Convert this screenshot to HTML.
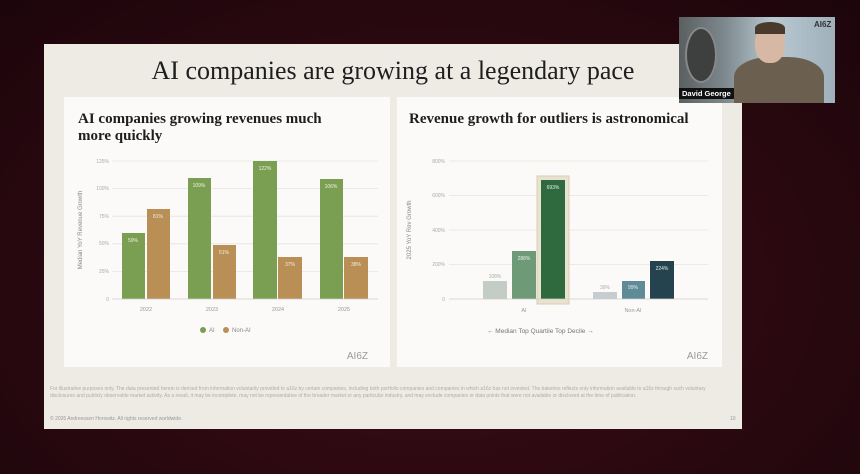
<!DOCTYPE html><html><head><style>
*{margin:0;padding:0;box-sizing:border-box}
body{width:860px;height:474px;overflow:hidden;background:radial-gradient(ellipse at 50% 60%,#3d0d18 0%,#2a0810 60%,#1c060b 100%);font-family:"Liberation Sans",sans-serif;position:relative}
.slide{position:absolute;left:44px;top:44px;width:698px;height:385px;background:#eeebe5}
.t{position:absolute;font-family:"Liberation Serif",serif;color:#1e1e1e}
.panel{position:absolute;top:53px;width:326px;height:270px;background:#fbfaf8}
.s{font-size:5px;color:#999;position:absolute}
</style></head><body>
<div class="slide">
<div class="t" style="left:0;width:698px;text-align:center;top:12px;font-size:26px">AI companies are growing at a legendary pace</div>
<div class="panel" style="left:20px"></div>
<div class="panel" style="left:353px;width:325px"></div>
<div class="s" style="left:6px;top:342px;width:680px;line-height:7px;color:#b0aca4">For illustrative purposes only. The data presented herein is derived from information voluntarily provided to a16z by certain companies, including both portfolio companies and companies in which a16z has not invested. The bakeries reflects only information available to a16z through such voluntary disclosures and publicly observable market activity. As a result, it may be incomplete, may not be representative of the broader market or any particular industry, and may exclude companies or data points that were not available or disclosed at the time of publication.</div>
<div class="s" style="left:6px;top:372px;color:#999">© 2026 Andreessen Horowitz. All rights reserved worldwide.</div>
<div class="s" style="left:686px;top:372px">10</div>
</div>
<svg width="860" height="474" style="position:absolute;left:0;top:0" font-family="Liberation Sans,sans-serif">
<text x="78" y="123" font-family="Liberation Serif,serif" font-size="15" font-weight="bold" fill="#1e1e1e">AI companies growing revenues much</text>
<text x="78" y="140" font-family="Liberation Serif,serif" font-size="15" font-weight="bold" fill="#1e1e1e">more quickly</text>
<text x="409" y="123" font-family="Liberation Serif,serif" font-size="15" font-weight="bold" fill="#1e1e1e">Revenue growth for outliers is astronomical</text>
<g stroke="#e6e4df" stroke-width="0.8">
<line x1="112" x2="378" y1="161" y2="161"/><line x1="112" x2="378" y1="188.6" y2="188.6"/><line x1="112" x2="378" y1="216.2" y2="216.2"/><line x1="112" x2="378" y1="243.8" y2="243.8"/><line x1="112" x2="378" y1="271.4" y2="271.4"/>
<line x1="449" x2="708" y1="161" y2="161"/><line x1="449" x2="708" y1="195.5" y2="195.5"/><line x1="449" x2="708" y1="230" y2="230"/><line x1="449" x2="708" y1="264.5" y2="264.5"/>
</g>
<g font-size="5" fill="#aaa" text-anchor="end">
<text x="109" y="163">125%</text><text x="109" y="190">100%</text><text x="109" y="218">75%</text><text x="109" y="245">50%</text><text x="109" y="273">25%</text><text x="109" y="301">0</text>
<text x="445" y="163">800%</text><text x="445" y="197">600%</text><text x="445" y="232">400%</text><text x="445" y="266">200%</text><text x="445" y="301">0</text>
</g>
<text transform="translate(82,230) rotate(-90)" font-size="6" fill="#888" text-anchor="middle">Median YoY Revenue Growth</text>
<text transform="translate(411,230) rotate(-90)" font-size="6" fill="#888" text-anchor="middle">2025 YoY Rev Growth</text>
<g fill="#7b9f52">
<rect x="122" y="233" width="23" height="66"/><rect x="188" y="178" width="23" height="121"/><rect x="253" y="161" width="24" height="138"/><rect x="320" y="179" width="23" height="120"/>
</g>
<g fill="#b98f55">
<rect x="147" y="209" width="23" height="90"/><rect x="213" y="245" width="23" height="54"/><rect x="278" y="257" width="24" height="42"/><rect x="344" y="257" width="24" height="42"/>
</g>
<line x1="112" x2="378" y1="299" y2="299" stroke="#ccc" stroke-width="0.8"/>
<g font-size="5" fill="#f3efe0" text-anchor="middle">
<text x="133" y="242">59%</text><text x="158" y="218">81%</text><text x="199" y="187">109%</text><text x="224" y="254">51%</text><text x="265" y="170">122%</text><text x="290" y="266">37%</text><text x="331" y="188">106%</text><text x="356" y="266">38%</text>
</g>
<g font-size="5.5" fill="#999" text-anchor="middle">
<text x="146" y="311">2022</text><text x="212" y="311">2023</text><text x="278" y="311">2024</text><text x="344" y="311">2025</text>
</g>
<circle cx="203" cy="330" r="3" fill="#7b9f52"/><text x="209" y="332" font-size="6" fill="#888">AI</text>
<circle cx="226" cy="330" r="3" fill="#b98f55"/><text x="232" y="332" font-size="6" fill="#888">Non-AI</text>
<text x="368" y="359" font-size="10" fill="#999" text-anchor="end">AI6Z</text>
<rect x="537" y="176" width="32" height="128" fill="#e9e2d0" stroke="#d8ceb6"/>
<rect x="483" y="281" width="24" height="18" fill="#c3cdc5"/>
<rect x="512" y="251" width="24" height="48" fill="#6e9a78"/>
<rect x="541" y="180" width="24" height="119" fill="#2f6a3f"/>
<rect x="593" y="292" width="24" height="7" fill="#c5cdd1"/>
<rect x="622" y="281" width="23" height="18" fill="#5f8b99"/>
<rect x="650" y="261" width="24" height="38" fill="#24434f"/>
<line x1="449" x2="708" y1="299" y2="299" stroke="#ccc" stroke-width="0.8"/>
<g font-size="5" text-anchor="middle">
<text x="495" y="278" fill="#aaa">108%</text><text x="524" y="260" fill="#e8efe8">288%</text><text x="553" y="189" fill="#e8efe8">693%</text>
<text x="605" y="289" fill="#aaa">39%</text><text x="633" y="289" fill="#e8efe8">99%</text><text x="662" y="270" fill="#e8efe8">224%</text>
</g>
<g font-size="5.5" fill="#999" text-anchor="middle"><text x="524" y="312">AI</text><text x="633" y="312">Non-AI</text></g>
<text x="487" y="333" font-size="6.5" fill="#777">← Median   Top Quartile   Top Decile →</text>
<text x="708" y="359" font-size="10" fill="#999" text-anchor="end">AI6Z</text>
</svg>
<div style="position:absolute;left:679px;top:17px;width:156px;height:86px;background:linear-gradient(90deg,#5a5f60 0%,#7e8a8f 30%,#b9c8d2 60%,#9fb0bb 100%);overflow:hidden">
<div style="position:absolute;left:6px;top:10px;width:32px;height:56px;border-radius:50%;background:#3e3f3f;border:2px solid #888"></div>
<div style="position:absolute;left:55px;top:40px;width:90px;height:50px;border-radius:40% 40% 0 0;background:#6b6050"></div>
<div style="position:absolute;left:76px;top:8px;width:30px;height:38px;border-radius:45%;background:#d7b8a4"></div>
<div style="position:absolute;left:76px;top:5px;width:30px;height:12px;border-radius:50% 50% 0 0;background:#4a3a2e"></div>
<div style="position:absolute;left:135px;top:3px;font-size:8px;color:#333;font-weight:bold">AI6Z</div>
<div style="position:absolute;left:0;top:71px;padding:1px 3px;background:#111;color:#fff;font-size:7.5px;font-weight:bold">David George</div>
</div>
</body></html>
